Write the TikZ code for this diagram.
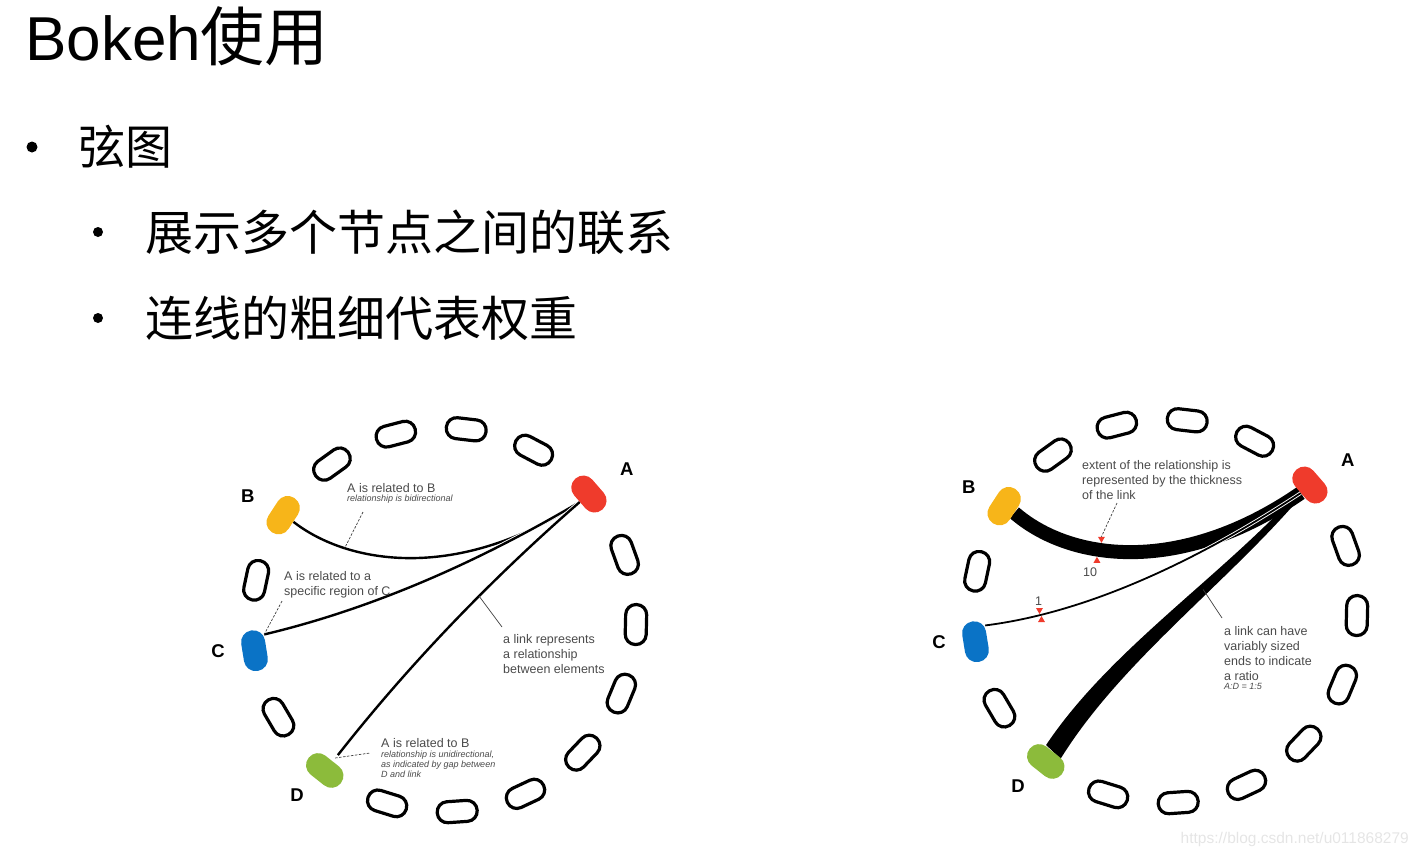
\documentclass[tikz,border=0pt]{standalone}
\usepackage{fontspec}
\setmainfont{Liberation Sans}
\newfontfamily\cjk{Noto Sans CJK SC}
\usetikzlibrary{calc,backgrounds,shapes.geometric}

\definecolor{chordred}{HTML}{EF3B2C}
\definecolor{chordyellow}{HTML}{F7B519}
\definecolor{chordblue}{HTML}{0A73C6}
\definecolor{chordgreen}{HTML}{8CBB3B}
\definecolor{notegray}{HTML}{4A4A4A}

% ring of 17 pills, coloured ones named A--D
\newcommand{\pillring}{%
  \foreach \k in {1,...,7,9,11,13,14,15,16}
    \node[pill,rotate={131-\k*360/17}] at ({41-\k*360/17}:192) {};
  \node[cpill,fill=chordred,rotate=131]      (A) at (41:192)     {};
  \node[cpill,fill=chordgreen,rotate=-38.4]  (D) at (-128.4:192) {};
  \node[cpill,fill=chordblue,rotate=-80.8]   (C) at (-170.8:192) {};
  \node[cpill,fill=chordyellow,rotate=236.9] (B) at (146.9:192)  {};
  \coordinate (cend) at ($(C.north)!.7!(C.north west)$);
  \node[letter] (labA) at (39.5:237)  {A};
  \node[letter] (labB) at (147.7:232) {B};
  \node[letter] (labC) at (187.8:228) {C};
  \node[letter] (labD) at (230:228.5) {D};
}

\begin{document}
\begin{tikzpicture}[
  x=1pt,y=1pt,
  pill/.style={draw,line width=3.2pt,rounded corners=10.2pt,
               minimum width=40pt,minimum height=21pt,inner sep=0pt},
  cpill/.style={rounded corners=11.8pt,minimum width=41pt,
                minimum height=24pt,inner sep=0pt},
  letter/.style={font=\fontsize{18.5}{18.5}\selectfont\bfseries,inner sep=0pt},
  note/.style={font=\fontsize{12.5}{15}\selectfont,text=notegray,
               align=left,inner sep=0pt},
  subnote/.style={font=\fontsize{9}{10.2}\selectfont\itshape,text=notegray,
                  align=left,inner sep=0pt},
  link/.style={draw=white,double=black,double distance=2.4pt,line width=0.9pt},
  leader/.style={draw=black!75,line width=0.7pt},
  dleader/.style={leader,dash pattern=on 2.5pt off 1.5pt},
  redtip/.style={regular polygon,regular polygon sides=3,fill=chordred,
                 minimum size=8pt,inner sep=0pt},
  bullet/.style={circle,fill,inner sep=0pt,minimum size=11pt},
  cjktext/.style={font=\cjk\fontsize{48}{48}\selectfont,anchor=west,inner sep=0pt}
]
\useasboundingbox (0,0) rectangle (1419,-857);

% ---- slide text ----
\node[anchor=base west,inner sep=0pt,font=\fontsize{62}{62}\selectfont]
  (title) at (25,-60) {Bokeh{\cjk\fontsize{64}{64}\selectfont 使用}};
\node[bullet] (dot1) at (32,-147) {};
\node[cjktext,font=\cjk\fontsize{47}{47}\selectfont] (xiantu) at (78,-147) {弦图};
\node[bullet,minimum size=10pt] (dot2) at (98,-232) {};
\node[cjktext] (zhanshi) at (145,-232) {展示多个节点之间的联系};
\node[bullet,minimum size=10pt] (dot3) at (98,-318) {};
\node[cjktext] (lianxian) at (145,-318) {连线的粗细代表权重};

% ---- left chord diagram ----
\begin{scope}[shift={(444,-620)},name prefix=l-]
  \pillring
  \begin{pgfonlayer}{background}
    \draw[link] (B.north) .. controls (-95,55) and (15,38) .. (A.north)
      coordinate[pos=.25] (ab);
    \draw[link] (A.north) .. controls (21.6,50.4) and (-84,8.3) .. (cend);
    \coordinate (dgap) at ($(D.north)!8pt!(A.north)$);
    \draw[link] (A.north) .. controls (45,39) and (-37,-47) .. (dgap)
      coordinate[pos=.385] (ad);
  \end{pgfonlayer}
\end{scope}

\node[note,anchor=base west] (relab) at (347,-492) {A is related to B};
\node[subnote,anchor=base west] (relabs) at ([yshift=-9pt]relab.base west)
  {relationship is bidirectional};
\node[note,anchor=north west] (relac) at (284,-571)
  {A is related to a\\specific region of C};
\node[note,anchor=north west] (linkrep) at (503,-634)
  {a link represents\\a relationship\\between elements};
\node[note,anchor=base west] (relad) at (381,-747) {A is related to B};
\node[subnote,anchor=north west] (relads) at ([yshift=-3.6pt]relad.base west)
  {relationship is unidirectional,\\as indicated by gap between\\D and link};

\draw[dleader] ([xshift=16pt,yshift=-11pt]relabs.base west) -- (l-ab);
\draw[dleader] ([xshift=-2pt,yshift=-3pt]relac.south west) -- (l-cend);
\draw[leader] (l-ad) -- ([xshift=-1pt,yshift=7pt]linkrep.north west);
\draw[dleader] ($(l-D.north)!.5!(l-dgap)$) -- ([xshift=-11pt,yshift=-6pt]relad.base west);

% ---- right chord diagram ----
\begin{scope}[shift={(1165,-611)},name prefix=r-]
  \pillring
  \begin{pgfonlayer}{background}
    \draw[line width=14pt] (B.north) .. controls (-95,50) and (15,35) .. (A.north)
      coordinate[pos=.38] (m10);
    \path (A.north) .. controls (58,30) and (-50,-45) .. (D.north)
      coordinate[pos=.38] (adm);
    \fill ($(A.north)!2.5pt!90:(D.north)$)
      .. controls (61.3,26.9) and (-44.2,-50.5) .. ($(D.north)!10pt!-90:(A.north)$)
      -- ($(D.north)!10pt!90:(A.north)$)
      .. controls (-55.8,-39.5) and (54.7,33.1) .. ($(A.north)!2.5pt!-90:(D.north)$)
      -- cycle;
    \draw[link,double distance=1.8pt] (A.north) .. controls (14.6,38.7) and (-91,-3.3)
      .. (cend) coordinate[pos=.8] (m1);
  \end{pgfonlayer}
  \node[redtip,shape border rotate=180] (m10a) at ($(m10)+(2.5,11)$) {};
  \node[redtip] (m10b) at ($(m10)+(-2,-11)$) {};
  \node[redtip,shape border rotate=180] (m1a) at ($(m1)+(-1,5)$) {};
  \node[redtip] (m1b) at ($(m1)+(1,-5)$) {};
\end{scope}

\node[note,anchor=north west] (extent) at (1082,-460)
  {extent of the relationship is\\represented by the thickness\\of the link};
\node[note,anchor=base west] (ten) at (1083,-576) {10};
\node[note,anchor=base west] (one) at (1035,-605) {1};
\node[note,anchor=north west] (ratio) at (1224,-626)
  {a link can have\\variably sized\\ends to indicate\\a ratio};
\node[subnote,anchor=base west] (ratiod) at (1224,-689) {A:D = 1:5};

\draw[dleader] ([xshift=35pt,yshift=-43pt]extent.north west) -- (r-m10a.north);
\draw[leader] (r-adm) -- ([xshift=-2pt,yshift=8pt]ratio.north west);

% ---- watermark ----
\node[anchor=base east,inner sep=0pt,font=\fontsize{15.5}{15.5}\selectfont,text=black!10]
  (wm) at (1409,-843) {https://blog.csdn.net/u011868279};
\end{tikzpicture}
\end{document}
